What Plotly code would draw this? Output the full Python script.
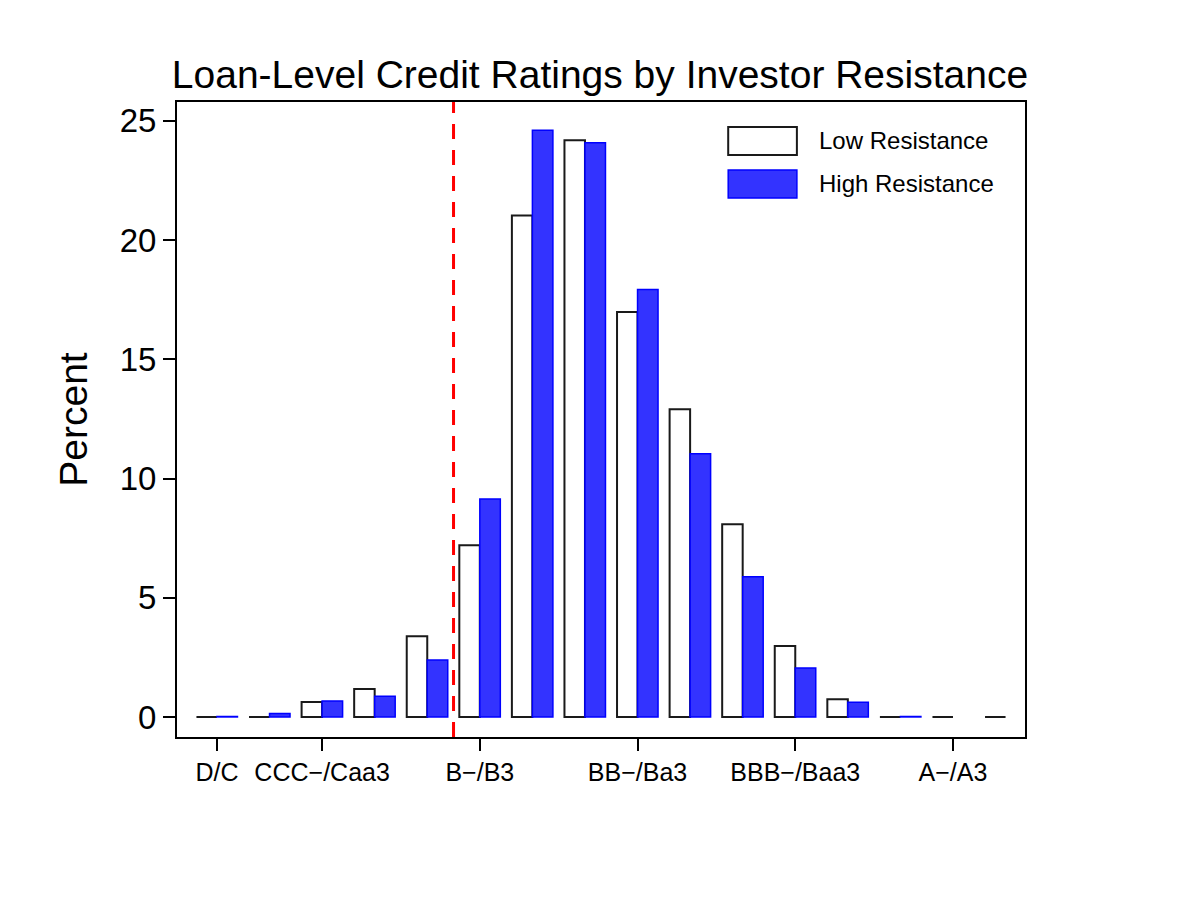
import plotly.graph_objects as go

# rating buckets, 1 = D/C ... 16 = top
groups = list(range(1, 17))
low_resistance = [0.0, 0.0, 0.63, 1.17, 3.38, 7.2, 21.03, 24.19, 16.98, 12.91, 8.08, 2.98, 0.74, 0.0, 0.0, 0.0]
high_resistance = [0.02, 0.15, 0.67, 0.87, 2.39, 9.14, 24.61, 24.08, 17.93, 11.04, 5.88, 2.05, 0.62, 0.02, None, None]

tick_pos = [1, 3, 6, 9, 12, 15]
tick_text = ["D/C", "CCC\u2212/Caa3", "B\u2212/B3", "BB\u2212/Ba3", "BBB\u2212/Baa3", "A\u2212/A3"]

cutoff = 5.5  # investment threshold line

font = "Liberation Sans, Arial, sans-serif"

fig = go.Figure()

fig.add_trace(go.Bar(
    x=groups, y=low_resistance, name="Low Resistance",
    marker=dict(color="white", line=dict(color="#1a1a1a", width=2)),
))
fig.add_trace(go.Bar(
    x=groups, y=high_resistance, name="High Resistance",
    marker=dict(color="#3333ff", line=dict(color="#0000ff", width=1.5)),
))

# red dashed cutoff line
fig.add_shape(type="line", xref="x", yref="paper", x0=cutoff, x1=cutoff, y0=0, y1=1,
              line=dict(color="#ff0000", width=3, dash="15px,11px"))

# hand-made legend (Stata style wide keys)
fig.add_shape(type="rect", xref="paper", yref="paper", x0=0.650, x1=0.731, y0=0.9165, y1=0.9606,
              fillcolor="white", line=dict(color="#1a1a1a", width=2))
fig.add_shape(type="rect", xref="paper", yref="paper", x0=0.650, x1=0.731, y0=0.8488, y1=0.8929,
              fillcolor="#3333ff", line=dict(color="#0000ff", width=1.5))
fig.add_annotation(xref="paper", yref="paper", x=0.7547, y=0.9386, xanchor="left", yanchor="middle",
                   text="Low Resistance", showarrow=False, font=dict(family=font, size=24, color="black"))
fig.add_annotation(xref="paper", yref="paper", x=0.7547, y=0.8709, xanchor="left", yanchor="middle",
                   text="High Resistance", showarrow=False, font=dict(family=font, size=24, color="black"))

fig.update_layout(
    width=1200, height=900,
    margin=dict(l=169, r=183, t=94, b=171),
    paper_bgcolor="white", plot_bgcolor="white",
    barmode="group", bargap=0.22, bargroupgap=0,
    showlegend=False,
    font=dict(family=font, color="black"),
    title=dict(text="Loan-Level Credit Ratings by Investor Resistance",
               x=592 / 1200, xanchor="center", xref="container", y=1 - 66 / 900, yanchor="middle",
               font=dict(family=font, size=39, color="black")),
)

fig.update_xaxes(
    range=[0.24, 16.37], tickvals=tick_pos, ticktext=tick_text,
    ticks="outside", ticklen=12, tickwidth=2, tickcolor="black",
    showline=True, linecolor="black", linewidth=2, mirror=True,
    showgrid=False, zeroline=False, tickfont=dict(size=25),
)
fig.update_yaxes(
    range=[-0.84, 25.79], tickvals=[0, 5, 10, 15, 20, 25],
    ticks="outside", ticklen=12, tickwidth=2, tickcolor="black",
    showline=True, linecolor="black", linewidth=2, mirror=True,
    showgrid=False, zeroline=False, tickfont=dict(size=33),
    title=dict(text="Percent", font=dict(size=39), standoff=20),
)

fig.write_html("out.html")
